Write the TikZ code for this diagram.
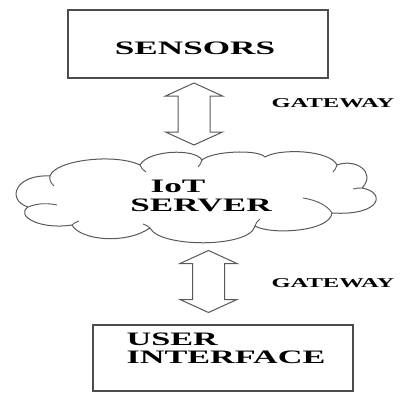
\documentclass[tikz,border=0pt]{standalone}
\usepackage{fontspec}
\setmainfont{Liberation Serif}
\tikzset{
  boxline/.style={draw=black!70, line width=1.3pt, inner sep=0pt},
  lbl/.style={inner sep=0pt, font=\fontsize{19}{17}\selectfont\bfseries},
  gwlbl/.style={inner sep=0pt, font=\fontsize{13.5}{15}\selectfont\bfseries},
  gwarrow/.style={draw=black!65, line width=1pt, fill=white, line join=miter},
  cloudline/.style={draw=black!65, line width=1pt, line join=round},
  curl/.style={draw=black!65, line width=0.9pt}
}
\newcommand{\wideit}[2]{\scalebox{#1}[1]{#2}}
\newcommand{\gwshape}[1]{%
  \path[gwarrow] ([yshift=31pt]#1) -- ++(28.5,13) -- ++(-12.5,0) -- ++(0,36)
    -- ++(12.5,0) -- ++(-28.5,13) -- ++(-28.5,-13) -- ++(12.5,0)
    -- ++(0,-36) -- ++(-12.5,0) -- cycle;}
\begin{document}
\begin{tikzpicture}[x=1pt,y=-1pt]
\useasboundingbox (0,0) rectangle (401,392);
% sensors box
\node[boxline, minimum width=260pt, minimum height=68pt] (sensors) at (198,44) {};
\node[lbl] (sensorslabel) at (195,48) {\wideit{1.85}{SENSORS}};
% upper gateway
\coordinate (gw1) at (194,114);
\gwshape{gw1}
\node[gwlbl] (gw1label) at (333,103) {\wideit{1.82}{GATEWAY}};
% cloud
\path[cloudline, fill=white] (50,176)
  .. controls (55,160) and (115,153) .. (140,165)
  .. controls (148,150) and (195,148) .. (202,160)
  .. controls (212,151) and (258,149) .. (265,157)
  .. controls (280,148) and (330,150) .. (337,165)
  .. controls (355,158) and (377,172) .. (362,188)
  .. controls (386,192) and (382,216) .. (332,213)
  .. controls (330,232) and (270,235) .. (255,226)
  .. controls (250,248) and (160,248) .. (150,228)
  .. controls (125,245) and (80,240) .. (72,225)
  .. controls (40,230) and (15,216) .. (28,207)
  .. controls (6,200) and (15,174) .. (50,176) -- cycle;
\path[curl] (50,176) .. controls (49,180) and (51,183) .. (54,186);
\path[curl] (28,207) .. controls (38,203) and (48,203) .. (57,205);
\path[curl] (140,165) .. controls (141,168) and (143,170) .. (146,172);
\path[curl] (202,160) .. controls (201,163) and (200,165) .. (198,167);
\path[curl] (337,165) .. controls (336,168) and (335,170) .. (333,172);
\path[curl] (362,188) .. controls (359,188) and (356,188) .. (353,189);
\path[curl] (303,198) .. controls (316,200) and (327,205) .. (332,213);
\path[curl] (255,226) .. controls (256,223) and (257,221) .. (260,219);
\path[curl] (150,228) .. controls (148,226) and (146,225) .. (143,224);
\path[curl] (72,225) .. controls (74,223) and (76,222) .. (79,221);
\node[lbl] (iot) at (178,186) {\wideit{1.85}{IoT}};
\node[lbl] (server) at (201,205) {\wideit{1.85}{SERVER}};
% lower gateway
\coordinate (gw2) at (208.5,281.5);
\gwshape{gw2}
\node[gwlbl] (gw2label) at (333,283) {\wideit{1.82}{GATEWAY}};
% user interface box
\node[boxline, minimum width=260pt, minimum height=66pt] (ui) at (223,358) {};
\node[lbl, align=left] (uilabel) at (226,351) {\wideit{1.8}{\begin{tabular}{@{}l@{}}USER\\INTERFACE\end{tabular}}};
\end{tikzpicture}
\end{document}
